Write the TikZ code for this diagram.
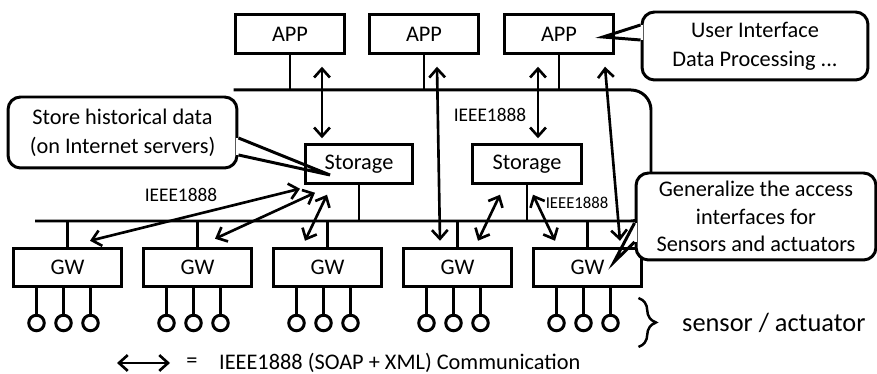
\documentclass[tikz,border=0pt]{standalone}
\usepackage{fontspec}
\setmainfont{Carlito}
\usetikzlibrary{positioning,calc,arrows.meta,decorations.pathreplacing}

% pointer of a callout: border gap #1--#2, tip #3
\newcommand\callptr[3]{
  \draw[white,line width=2.4pt] #1 -- #2;
  \draw[line width=1.7pt,line join=miter] #1 -- #3 -- #2;
}

\begin{document}
\begin{tikzpicture}[x=0.02cm,y=-0.02cm,
    font=\fontsize{12.7}{16.5}\selectfont,
    box/.style={draw,line width=1.7pt,inner sep=0pt,minimum height=0.77cm},
    bus/.style={line width=1.7pt},
    io/.style={line width=1.5pt,{Straight Barb[length=5pt,width=9pt]}-{Straight Barb[length=5pt,width=9pt]}},
    sens/.style={draw,circle,line width=1.7pt,inner sep=0pt,minimum size=0.31cm},
    note/.style={draw,fill=white,line width=1.7pt,rounded corners=0.25cm,align=center,inner sep=0pt},
    lbl/.style={font=\fontsize{11}{13}\selectfont}]
  \useasboundingbox (0,0) rectangle (877,374);

  % applications and storages
  \foreach \i/\x in {1/290,2/424,3/559}
    \node[box,minimum width=2.2cm] (app\i) at (\x,34) {APP};
  \node[box,minimum width=2.16cm] (st1) at (359,164) {Storage};
  \node[box,minimum width=2.2cm] (st2) at (527,164) {Storage};

  % gateways with their sensors
  \foreach \i in {1,...,5}{
    \pgfmathsetmacro{\gx}{67.5+130*(\i-1)}
    \node[box,minimum width=2.18cm] (gw\i) at (\gx,267.5) {GW};
    \foreach \j/\dx in {1/-31,2/-4,3/23}{
      \node[sens] (s\i\j) at ({\gx+(\dx)},323) {};
      \draw[bus] (gw\i.south -| s\i\j) -- (s\i\j);
    }
  }

  % buses
  \coordinate (tb) at (0,90);
  \coordinate (lb) at (35,221);
  \draw[bus,rounded corners=0.4cm] (app1.south west |- tb) -- (651,90) -- (651,221) -- (lb);
  \foreach \i in {1,2,3} \draw[bus] (app\i.south) -- (app\i.south |- tb);
  \foreach \i in {1,2} \draw[bus] (st\i.south) -- (st\i.south |- lb);
  \foreach \i in {1,...,5} \draw[bus] (gw\i.north) -- (gw\i.north |- lb);

  % IEEE1888 exchanges
  \draw[io] ($(app1.south)+(32,12)$) -- ($(st1.north)+(-37,-5)$);
  \draw[io] ($(app2.south)+(13,12)$) -- ($(gw4.north)+(-17.5,-6)$);
  \draw[io] ($(app3.south)+(-21,12)$) -- ($(st2.north)+(11,-5)$);
  \draw[io] ($(app3.south)+(46,12)$) -- ($(gw5.north)+(32.5,-6)$);
  \draw[io] ($(st1.south)+(-59,4)$) -- ($(gw1.north)+(22.5,-6)$);
  \draw[io] ($(st1.south)+(-44,8)$) -- ($(gw2.north)+(17.5,-8)$);
  \draw[io] ($(st1.south)+(-32,10)$) -- ($(gw3.north)+(-22.5,-6)$);
  \draw[io] ($(st2.south)+(-27,10)$) -- ($(gw4.north)+(20.5,-6)$);
  \draw[io] ($(st2.south)+(6,10)$) -- ($(gw5.north)+(-32.5,-6)$);

  \node[lbl] (l1) at (181,195) {IEEE1888};
  \node[lbl] (l2) at (490,115) {IEEE1888};
  \node[lbl,font=\fontsize{9.5}{11}\selectfont] (l3) at (577,203) {IEEE1888};

  % callouts
  \node[note,minimum width=4.58cm,minimum height=1.42cm] (n1) at (122.5,132.5)
    {Store historical data\\(on Internet servers)};
  \callptr{($(n1.east)+(0,5.5)$)}{($(n1.east)+(0,22.5)$)}{(330,175)}
  \node[note,minimum width=4.52cm,minimum height=1.36cm] (n2) at (755,46)
    {User Interface\\Data Processing ...};
  \callptr{($(n2.west)+(0,-21)$)}{($(n2.west)+(0,-6)$)}{(603,37)}
  \node[note,minimum width=4.8cm,minimum height=1.74cm,font=\fontsize{12.7}{15.6}\selectfont] (n3) at (756,216.5)
    {Generalize the access\\interfaces for\\Sensors and actuators};
  \callptr{($(n3.west)+(0,6.5)$)}{($(n3.west)+(0,25.5)$)}{(614,262)}

  % sensor brace
  \draw[line width=1.4pt,decorate,decoration={brace,amplitude=0.35cm}] ($(s53)+(28,-25)$) -- ($(s53)+(28,24)$);
  \node[anchor=west,font=\fontsize{15}{18}\selectfont] (sa) at (676,323) {sensor / actuator};

  % legend
  \coordinate (la) at (117,363);
  \coordinate (lz) at (170,363);
  \draw[io] (la) -- (lz);
  \node (eq) at (192,363) {=};
  \node[anchor=west] (leg) at (213,363) {IEEE1888 (SOAP + XML) Communication};
\end{tikzpicture}
\end{document}
